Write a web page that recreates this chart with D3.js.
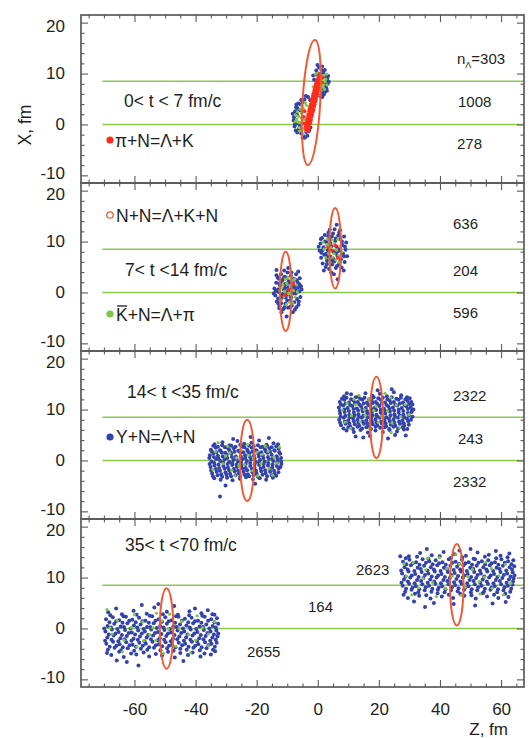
<!DOCTYPE html>
<html>
<head>
<meta charset="utf-8">
<script src="https://cdn.jsdelivr.net/npm/d3@7"></script>
<style>
html,body{margin:0;padding:0;background:#fff;}
svg{display:block;font-family:"Liberation Sans",Arial,Helvetica,sans-serif;}
</style>
</head>
<body>
<svg id="chart" width="532" height="738"></svg>
<script>
// ---- axes ----
const zDomain = [-77.5, 67.5];
const xDomain = [-11.5, 21.5];
const zTicks = [-60, -40, -20, 0, 20, 40, 60];
const xTicks = [-10, 0, 10, 20];
const bandLevels = [0, 8.5];
const bandStart = -70.5;

// ---- panel texts ----
const timeWindows = ["0< t < 7 fm/c", "7< t <14 fm/c", "14< t <35 fm/c", "35< t <70 fm/c"];
const upperCounts = [303, 636, 2322, 2623];
const middleCounts = [1008, 204, 243, 164];
const lowerCounts = [278, 596, 2332, 2655];

// ---- Lambda production points [Z, X] (fm) ----
const p1Blue = [[1.8,10.2],[2.4,9.4],[2.9,8.6],[2.6,7.6],[1.9,6.8],[1.2,10.8],[0.4,11.2],[-0.5,10.6],[3.1,9.0],[2.2,8.1],[1.5,6.2],[0.8,5.6],[-0.6,9.8],[2.8,7.1],[1.0,9.9],[3.3,8.0],[2.0,5.9],[-1.2,8.8],
[-7.4,2.6],[-7.8,1.4],[-6.9,0.2],[-6.2,-1.0],[-5.4,-1.8],[-4.6,-2.3],[-7.1,3.4],[-6.4,4.1],[-5.6,3.9],[-7.6,-0.4],[-3.8,-1.5],[-6.8,1.9],[-5.0,4.4],[-4.2,-2.6],[-7.9,0.8],[-6.0,2.8],[-2.8,-1.2],[-5.9,-0.3],[-3.3,0.3],[-7.2,-1.2],
[-2.5,4.8],[-1.4,6.0],[-3.2,5.4],[-0.2,6.5],[-4.4,4.9],
[1.4,11.4],[2.3,10.7],[3.4,9.5],[3.6,8.4],[3.0,6.6],[2.4,6.4],[-0.1,11.7],[-1.5,9.6],[-7.0,3.9],[-8.2,2.1],[-7.5,0.0],[-6.7,-1.6],[-5.0,-2.6],[-3.4,-2.2],[-6.6,3.2],[-5.4,4.8],[-2.4,-0.6],[-1.9,3.6],[-3.9,5.6],[-0.6,7.3],[1.5,5.4]];
const p1Green = [[0.5,9.3],[1.3,8.7],[2.0,9.6],[1.7,7.4],[0.9,7.9],[2.4,8.4],[1.1,6.6],[-0.2,8.4],[0.2,10.1],[2.6,8.9],[1.5,9.0],[0.6,6.9],[1.9,7.8],
[-6.3,1.6],[-5.7,0.4],[-6.6,2.5],[-5.0,-0.8],[-4.6,0.9],[-5.8,3.0],[-6.9,1.0],[-5.3,2.2],[-4.1,-1.2],[-6.1,-0.6],[-5.5,1.3],[-4.8,3.2],[-3.7,-0.4],[-6.5,0.5],
[-2.9,3.5],[-1.9,5.2],[-3.8,3.8],[-0.9,6.2],[-2.2,2.4],
[-7.1,1.8],[-6.0,-1.3],[-4.9,-1.9],[-3.4,-1.1],[-7.3,0.6],[-5.2,3.7],[-4.1,4.3],[1.0,11.0],[2.9,9.9],[3.0,7.8],[2.2,6.9],[-0.8,9.9],[-1.5,7.4],[0.3,5.9]];
const p1Red = [[-3.9,-1.0],[-3.3,-0.8],[-4.0,-0.5],[-3.4,-0.4],[-2.8,-0.6],[-3.8,0.1],[-3.2,-0.1],[-2.6,0.2],[-3.6,0.5],[-3.0,0.6],[-2.4,0.4],
[-3.5,1.0],[-2.8,1.1],[-2.2,0.9],[-3.2,1.6],[-2.6,1.4],[-2.0,1.5],[-3.1,2.0],[-2.4,2.1],[-1.8,1.9],[-2.8,2.6],[-2.2,2.4],[-1.6,2.5],
[-2.7,3.0],[-2.0,3.1],[-1.4,2.9],[-2.4,3.6],[-1.8,3.4],[-1.2,3.5],[-2.3,4.0],[-1.6,4.1],[-1.0,3.9],[-2.0,4.6],[-1.4,4.4],[-0.8,4.5],
[-1.9,5.0],[-1.2,5.1],[-0.6,4.9],[-1.6,5.6],[-1.0,5.4],[-0.4,5.5],[-1.4,6.0],[-0.8,6.1],[-0.2,5.9],[-1.2,6.6],[-0.6,6.4],[0.0,6.5],
[-1.0,7.0],[-0.4,7.1],[0.2,6.9],[-0.8,7.6],[-0.2,7.4],[0.4,7.5],[-0.6,8.0],[0.0,8.1],[0.6,7.9],[-0.3,8.6],[0.2,8.4],[0.7,8.5],
[0.0,9.0],[0.6,9.1],[0.3,9.6],[0.9,9.4],[0.7,10.0],[-4.6,1.5],[-4.3,2.6],[-4.5,0.2],[1.2,8.2],[1.5,9.2],[-3.0,-1.4]];

const p2Blue = [[-14.2,0.8],[-13.9,-0.6],[-13.6,1.9],[-13.4,-1.8],[-13.1,2.9],[-12.8,0.1],[-12.5,-2.7],[-12.3,1.3],[-12.0,3.6],[-11.8,-1.1],[-11.6,2.4],[-11.3,-3.3],[-11.1,0.6],[-10.8,3.1],[-10.6,-2.2],[-10.4,1.7],[-10.1,-0.4],[-9.9,3.9],[-9.7,-3.0],[-9.5,2.2],[-9.2,0.9],[-9.0,-1.6],[-8.8,3.3],[-8.5,-2.6],[-8.3,1.4],[-8.0,-0.2],[-7.8,2.7],[-7.5,-3.4],[-7.3,0.5],[-7.1,3.6],[-6.8,-1.3],[-6.6,1.9],[-6.3,-2.4],[-6.1,0.2],[-5.9,2.8],[-5.7,-0.9],[-5.5,1.2],[-13.0,-1.2],[-12.2,2.0],[-11.4,-0.3],[-10.5,-1.0],[-9.6,1.0],[-8.7,-1.0],[-7.6,1.2],[-6.9,2.4],[-6.2,-1.8],[-14.4,-0.2],[-13.5,3.4],[-12.6,-3.1],[-11.0,4.3],[-9.7,4.8],[-6.4,4.1],[-13.5,4.4],[-10.2,-4.7],[-8.2,-3.9],[-12.9,-2.2],[-5.3,0.6],[-11.9,-3.9],[-7.0,-2.9],[-10.0,2.9],
[-13.0,0.6],[-12.5,1.6],[-11.9,-0.6],[-11.2,2.8],[-10.7,0.9],[-10.0,-1.6],[-9.4,1.9],[-8.9,-0.8],[-8.2,2.0],[-7.7,-1.9],[-7.2,-0.2],[-6.5,0.9],[-12.0,-2.1],[-10.9,-2.9],[-9.0,-2.8],[-8.6,3.9],[-12.7,2.7],[-6.0,1.6],[-13.8,0.3],[-9.8,0.3],[-10.8,1.6],[-7.9,0.9],
[0.6,8.2],[0.9,9.6],[1.1,6.8],[1.4,10.7],[1.6,5.7],[1.9,8.9],[2.1,7.4],[2.3,11.3],[2.6,5.0],[2.8,9.9],[3.0,6.3],[3.3,8.3],[3.5,11.8],[3.7,4.6],[4.0,10.4],[4.2,7.0],[4.5,9.1],[4.7,5.5],[5.0,11.6],[5.2,8.0],[5.4,6.1],[5.7,10.1],[5.9,4.8],[6.2,9.0],[6.4,7.2],[6.7,11.2],[6.9,5.6],[7.1,8.5],[7.4,10.5],[7.6,6.5],[7.8,4.9],[8.1,9.3],[8.3,7.6],[8.6,11.0],[8.8,6.0],[9.1,8.4],[9.3,9.8],[1.2,7.8],[3.9,12.3],[6.2,13.3],[6.5,2.6],[5.3,3.6],[8.5,4.3],[2.0,4.3],[7.3,12.2],[0.3,9.0],[9.6,7.1],[4.4,3.9],[3.2,7.0],[6.0,7.8],
[1.5,8.3],[2.4,10.0],[3.0,5.6],[3.8,8.7],[4.6,11.0],[5.1,6.6],[5.9,10.6],[6.6,8.1],[7.2,6.0],[7.9,10.0],[8.6,7.1],[2.7,7.6],[4.1,9.7],[6.3,5.2],[8.9,9.0],[5.5,12.4],[1.0,10.5],[3.4,11.1],[7.0,11.8],[4.5,6.2]];
const p2Green = [[-11.8,0.9],[-11.0,-0.8],[-10.2,1.8],[-9.6,-0.2],[-9.0,1.1],[-8.4,2.3],[-8.0,0.4],[-7.4,-0.9],[-10.6,2.6],[-11.4,1.5],[-9.3,-1.9],[-8.6,-0.5],[-7.0,1.5],[-10.9,0.2],[-12.4,0.4],[-9.8,2.9],[-8.2,-2.1],[-7.6,2.6],[-10.3,-2.4],[-11.9,-1.5],[-6.7,0.1],[-9.1,0.0],
[2.1,8.5],[2.9,9.4],[3.6,7.7],[4.3,8.8],[4.9,6.9],[5.5,9.6],[6.1,8.3],[6.8,7.3],[7.4,9.0],[3.1,10.5],[4.8,10.3],[5.9,6.4],[7.9,8.0],[2.6,6.8],[4.0,5.9],[6.5,10.4],[3.8,9.6],[5.3,7.6],[7.0,5.9],[1.7,9.9]];
const p2Red = [[-9.4,0.5],[-8.1,1.7],[-10.7,-0.5],[4.6,8.2],[5.8,9.2],[3.4,8.9],[6.6,6.8]];

const p3Blue = [[-33.8,3.2],[-31.2,3.6],[-28.9,3.0],[-26.3,3.8],[-24.1,3.3],[-21.7,3.5],[-19.2,3.9],[-16.8,3.1],[-14.5,3.4],
[-35.0,2.1],[-33.4,2.5],[-32.0,2.0],[-30.4,2.6],[-29.1,2.2],[-27.5,2.4],[-26.0,1.9],[-24.6,2.7],[-23.1,2.1],[-21.6,2.5],[-20.2,2.0],[-18.7,2.6],[-17.3,2.2],[-15.8,2.4],[-14.2,2.0],[-12.8,2.3],
[-35.3,1.0],[-34.1,1.4],[-32.7,0.9],[-31.4,1.5],[-29.8,1.1],[-28.3,1.3],[-26.8,0.8],[-25.3,1.5],[-23.8,1.0],[-22.4,1.4],[-20.9,0.9],[-19.5,1.3],[-18.0,1.0],[-16.5,1.5],[-15.1,1.1],[-13.6,0.8],[-12.3,1.3],
[-34.8,-0.2],[-33.3,0.3],[-31.9,-0.1],[-30.5,0.2],[-29.0,-0.3],[-27.6,0.1],[-26.1,-0.2],[-24.7,0.3],[-23.2,-0.1],[-21.8,0.2],[-20.3,-0.3],[-18.9,0.1],[-17.4,-0.2],[-16.0,0.3],[-14.6,-0.1],[-13.1,0.2],[-12.0,-0.2],
[-35.1,-1.3],[-33.8,-1.0],[-32.3,-1.5],[-30.9,-1.1],[-29.4,-1.4],[-28.0,-0.9],[-26.5,-1.3],[-25.0,-1.0],[-23.6,-1.5],[-22.1,-1.1],[-20.7,-1.4],[-19.2,-0.9],[-17.8,-1.3],[-16.3,-1.0],[-14.9,-1.4],[-13.4,-1.1],[-12.2,-1.3],
[-34.6,-2.5],[-33.1,-2.2],[-31.6,-2.7],[-30.2,-2.3],[-28.7,-2.6],[-27.2,-2.1],[-25.8,-2.5],[-24.3,-2.2],[-22.9,-2.7],[-21.4,-2.3],[-20.0,-2.6],[-18.5,-2.1],[-17.1,-2.5],[-15.6,-2.2],[-14.2,-2.6],[-12.9,-2.3],
[-33.9,-3.5],[-31.8,-3.8],[-29.7,-3.4],[-27.9,-3.9],[-25.5,-3.6],[-23.5,-3.3],[-21.2,-3.7],[-19.0,-3.5],[-16.9,-3.8],[-14.7,-3.4],
[-32.0,-7.1],[-27.7,4.2],[-30.2,-4.9],[-22.0,4.6],[-16.0,4.4],[-13.0,3.2],[-20.5,-4.6],
[-34.2,2.9],[-32.7,2.7],[-31.3,3.0],[-29.8,2.6],[-28.3,2.9],[-26.9,2.7],[-25.4,3.1],[-24.0,2.6],[-22.5,2.9],[-21.0,2.8],[-19.6,3.0],[-18.1,2.7],[-16.6,2.9],[-15.1,2.6],[-13.6,2.8],
[-34.7,1.8],[-33.2,1.6],[-31.8,1.9],[-30.3,1.5],[-28.8,1.8],[-27.3,1.7],[-25.9,1.9],[-24.4,1.6],[-22.9,1.8],[-21.4,1.7],[-20.0,1.9],[-18.5,1.6],[-17.0,1.8],[-15.6,1.7],[-14.1,1.9],[-12.6,1.6],
[-35.5,0.5],[-34.0,0.7],[-32.5,0.4],[-31.1,0.8],[-29.6,0.5],[-28.1,0.7],[-26.6,0.4],[-25.2,0.8],[-23.7,0.5],[-22.2,0.7],[-20.7,0.4],[-19.3,0.8],[-17.8,0.5],[-16.3,0.7],[-14.8,0.4],[-13.4,0.8],[-12.0,0.5],
[-35.4,-0.7],[-33.9,-0.5],[-32.5,-0.8],[-31.0,-0.4],[-29.5,-0.7],[-28.0,-0.5],[-26.6,-0.8],[-25.1,-0.4],[-23.6,-0.7],[-22.1,-0.5],[-20.7,-0.8],[-19.2,-0.4],[-17.7,-0.7],[-16.2,-0.5],[-14.8,-0.8],[-13.3,-0.4],[-11.9,-0.7],
[-34.9,-1.9],[-33.4,-1.7],[-32.0,-2.0],[-30.5,-1.6],[-29.0,-1.9],[-27.5,-1.7],[-26.1,-2.0],[-24.6,-1.6],[-23.1,-1.9],[-21.6,-1.7],[-20.2,-2.0],[-18.7,-1.6],[-17.2,-1.9],[-15.7,-1.7],[-14.3,-2.0],[-12.8,-1.6],
[-34.3,-3.1],[-32.8,-2.9],[-31.3,-3.2],[-29.9,-2.8],[-28.4,-3.1],[-26.9,-2.9],[-25.4,-3.2],[-24.0,-2.8],[-22.5,-3.1],[-21.0,-2.9],[-19.6,-3.2],[-18.1,-2.8],[-16.6,-3.1],[-15.1,-2.9],[-13.6,-3.0],
[8.6,12.6],[10.9,13.0],[13.2,12.5],[15.6,13.2],[17.9,12.7],[20.3,13.1],[22.6,12.6],[24.9,13.4],[27.3,12.8],[29.2,12.4],
[7.2,11.5],[8.7,11.9],[10.2,11.4],[11.7,11.8],[13.1,11.5],[14.6,11.9],[16.1,11.4],[17.6,11.8],[19.0,11.5],[20.5,11.9],[22.0,11.4],[23.5,11.8],[24.9,11.5],[26.4,11.9],[27.9,11.4],[29.4,11.7],[30.6,11.5],
[6.9,10.4],[8.3,10.8],[9.8,10.3],[11.3,10.7],[12.8,10.2],[14.2,10.6],[15.7,10.3],[17.2,10.8],[18.7,10.4],[20.1,10.7],[21.6,10.2],[23.1,10.6],[24.6,10.4],[26.0,10.8],[27.5,10.3],[29.0,10.6],[30.4,10.4],
[7.3,9.2],[8.8,9.5],[10.3,9.0],[11.8,9.4],[13.3,9.1],[14.7,9.6],[16.2,9.2],[17.7,9.5],[19.2,9.0],[20.6,9.4],[22.1,9.2],[23.6,9.6],[25.1,9.1],[26.5,9.4],[28.0,9.0],[29.5,9.3],[30.7,9.5],
[7.0,8.0],[8.5,8.4],[10.0,7.9],[11.5,8.3],[13.0,8.0],[14.4,8.4],[15.9,7.9],[17.4,8.3],[18.9,8.1],[20.3,8.4],[21.8,7.9],[23.3,8.2],[24.8,8.0],[26.3,8.4],[27.7,7.9],[29.2,8.2],[30.5,8.0],
[7.6,6.9],[9.1,7.2],[10.6,6.7],[12.1,7.1],[13.6,6.8],[15.1,7.2],[16.5,6.7],[18.0,7.1],[19.5,6.9],[21.0,7.2],[22.4,6.7],[23.9,7.0],[25.4,6.8],[26.9,7.2],[28.3,6.8],[29.8,7.0],
[9.4,5.9],[11.8,5.6],[14.0,6.0],[16.4,5.5],[18.9,5.9],[21.3,5.6],[23.5,6.0],[25.9,5.7],[28.2,6.1],
[25.3,5.0],[23.0,4.3],[24.2,14.0],[12.4,4.7],[17.1,4.8],[28.8,4.9],[19.6,13.8],[9.5,13.2],[31.3,10.0],[14.9,4.5],
[7.9,12.1],[9.4,12.3],[10.9,12.0],[12.4,12.4],[13.9,12.1],[15.3,12.3],[16.8,12.0],[18.3,12.4],[19.8,12.2],[21.3,12.3],[22.8,12.0],[24.2,12.4],[25.7,12.1],[27.2,12.3],[28.7,12.0],[30.1,12.2],
[7.6,11.0],[9.1,11.2],[10.6,10.9],[12.1,11.3],[13.6,11.0],[15.0,11.2],[16.5,10.9],[18.0,11.3],[19.5,11.1],[21.0,11.2],[22.5,10.9],[23.9,11.3],[25.4,11.0],[26.9,11.2],[28.4,10.9],[29.9,11.1],[31.0,11.0],
[7.2,9.8],[8.7,10.0],[10.2,9.7],[11.7,10.1],[13.2,9.8],[14.6,10.0],[16.1,9.7],[17.6,10.1],[19.1,9.9],[20.6,10.0],[22.1,9.7],[23.5,10.1],[25.0,9.8],[26.5,10.0],[28.0,9.7],[29.5,10.1],[30.9,9.9],
[7.5,8.6],[9.0,8.8],[10.5,8.5],[12.0,8.9],[13.5,8.6],[14.9,8.8],[16.4,8.5],[17.9,8.9],[19.4,8.7],[20.9,8.8],[22.4,8.5],[23.8,8.9],[25.3,8.6],[26.8,8.8],[28.3,8.5],[29.8,8.9],[31.0,8.6],
[7.3,7.4],[8.8,7.6],[10.3,7.3],[11.8,7.7],[13.3,7.4],[14.7,7.6],[16.2,7.3],[17.7,7.7],[19.2,7.5],[20.7,7.6],[22.2,7.3],[23.6,7.7],[25.1,7.4],[26.6,7.6],[28.1,7.3],[29.6,7.7],
[8.4,6.3],[10.0,6.5],[11.5,6.2],[13.0,6.6],[14.5,6.3],[15.9,6.5],[17.4,6.2],[18.9,6.6],[20.4,6.4],[21.9,6.5],[23.4,6.2],[24.8,6.6],[26.3,6.3],[27.8,6.5],[29.3,6.2]];
const p3Green = [[-33.5,1.7],[-31.0,-0.6],[-29.5,2.8],[-28.2,-1.9],[-26.6,0.5],[-25.1,2.0],[-24.0,-0.8],[-22.7,1.0],[-21.3,-2.0],[-20.0,1.6],[-18.6,-0.6],[-17.2,2.9],[-15.9,-1.6],[-14.3,0.6],[-13.3,-0.5],[-32.6,3.5],[-27.1,-3.0],[-23.0,3.1],[-19.7,-3.0],[-16.2,1.8],[-30.1,0.9],[-34.3,-1.8],[-25.8,-1.0],[-21.0,0.3],[-18.2,1.2],[-14.8,-2.9],[-28.8,1.5],[-12.6,2.6],
[8.0,9.9],[9.6,11.2],[11.0,8.8],[12.3,10.9],[13.9,7.6],[15.2,10.0],[16.8,12.0],[18.3,9.8],[19.8,7.5],[21.2,11.1],[22.8,9.7],[24.3,7.4],[25.7,10.9],[27.1,8.6],[28.6,11.0],[10.7,6.3],[13.5,12.8],[17.0,6.3],[20.8,8.7],[23.9,12.3],[26.8,6.4],[29.8,9.0],[15.5,8.9],[11.9,12.0],[19.1,10.6],[8.9,7.5],[24.0,5.5],[22.0,13.2]];

const p4Blue = [[-68.6,3.2],[-64.1,2.8],[-60.3,3.5],[-56.0,2.9],[-52.2,4.8],[-49.4,3.3],[-45.8,2.7],[-42.0,3.4],[-38.1,3.0],[-34.5,2.8],
[-69.3,1.8],[-67.1,2.2],[-65.0,1.6],[-62.8,2.3],[-60.7,1.7],[-58.5,2.1],[-56.4,1.5],[-54.2,2.4],[-52.1,1.8],[-49.9,2.2],[-47.8,1.6],[-45.6,2.3],[-43.5,1.9],[-41.3,2.1],[-39.2,1.5],[-37.0,2.3],[-34.9,1.8],[-33.0,2.0],
[-68.8,0.5],[-66.6,0.9],[-64.5,0.4],[-62.3,1.0],[-60.2,0.6],[-58.0,0.8],[-55.9,0.3],[-53.7,1.0],[-51.6,0.5],[-49.4,0.9],[-47.3,0.4],[-45.1,0.8],[-43.0,0.6],[-40.8,1.0],[-38.7,0.4],[-36.5,0.8],[-34.4,0.5],[-32.6,0.9],
[-69.5,-0.6],[-67.4,-0.2],[-65.2,-0.7],[-63.1,-0.3],[-60.9,-0.8],[-58.8,-0.4],[-56.6,-0.6],[-54.5,-0.2],[-52.3,-0.7],[-50.2,-0.3],[-48.0,-0.8],[-45.9,-0.4],[-43.7,-0.6],[-41.6,-0.2],[-39.4,-0.7],[-37.3,-0.3],[-35.1,-0.6],[-33.2,-0.4],
[-68.9,-1.8],[-66.8,-1.4],[-64.6,-1.9],[-62.5,-1.5],[-60.3,-2.0],[-58.2,-1.6],[-56.0,-1.8],[-53.9,-1.4],[-51.7,-1.9],[-49.6,-1.5],[-47.4,-2.0],[-45.3,-1.6],[-43.1,-1.8],[-41.0,-1.4],[-38.8,-1.9],[-36.7,-1.5],[-34.5,-1.8],[-32.8,-1.6],
[-69.2,-3.0],[-67.0,-2.6],[-64.9,-3.1],[-62.7,-2.7],[-60.6,-3.2],[-58.4,-2.8],[-56.3,-3.0],[-54.1,-2.6],[-52.0,-3.1],[-49.8,-2.7],[-47.7,-3.2],[-45.5,-2.8],[-43.4,-3.0],[-41.2,-2.6],[-39.1,-3.1],[-36.9,-2.7],[-34.8,-3.0],[-33.1,-2.8],
[-68.7,-4.2],[-66.5,-3.8],[-64.4,-4.3],[-62.2,-3.9],[-60.1,-4.4],[-57.9,-4.0],[-55.8,-4.2],[-53.6,-3.8],[-51.5,-4.3],[-49.3,-3.9],[-47.2,-4.4],[-45.0,-4.0],[-42.9,-4.2],[-40.7,-3.8],[-38.6,-4.3],[-36.4,-3.9],[-34.3,-4.2],
[-67.6,-5.2],[-63.5,-5.6],[-59.4,-5.1],[-55.2,-5.5],[-51.0,-5.3],[-46.8,-5.7],[-42.5,-5.2],[-38.4,-5.5],[-35.0,-5.1],
[-58.7,-7.3],[-62.5,-6.6],[-65.8,-6.3],[-53.5,4.1],[-57.6,4.6],[-47.0,4.4],[-40.2,3.9],[-44.0,-6.4],[-36.0,3.6],[-66.0,3.9],
[-67.9,2.6],[-63.6,2.4],[-59.3,2.7],[-55.0,2.5],[-50.7,2.8],[-46.4,2.4],[-42.1,2.6],[-37.8,2.5],[-33.8,2.7],
[-68.2,1.2],[-66.0,1.4],[-63.9,1.1],[-61.7,1.5],[-59.6,1.2],[-57.4,1.4],[-55.3,1.1],[-53.1,1.5],[-51.0,1.3],[-48.8,1.4],[-46.7,1.1],[-44.5,1.5],[-42.4,1.2],[-40.2,1.4],[-38.1,1.1],[-35.9,1.5],[-33.8,1.2],
[-69.9,0.0],[-67.7,0.2],[-65.6,-0.1],[-63.4,0.3],[-61.3,0.0],[-59.1,0.2],[-57.0,-0.1],[-54.8,0.3],[-52.7,0.1],[-50.5,0.2],[-48.4,-0.1],[-46.2,0.3],[-44.1,0.0],[-41.9,0.2],[-39.8,-0.1],[-37.6,0.3],[-35.5,0.0],[-33.4,0.2],
[-68.4,-1.2],[-66.2,-1.0],[-64.1,-1.3],[-61.9,-0.9],[-59.8,-1.2],[-57.6,-1.0],[-55.5,-1.3],[-53.3,-0.9],[-51.2,-1.1],[-49.0,-1.0],[-46.9,-1.3],[-44.7,-0.9],[-42.6,-1.2],[-40.4,-1.0],[-38.3,-1.3],[-36.1,-0.9],[-34.0,-1.2],[-32.6,-1.0],
[-69.6,-2.4],[-67.5,-2.2],[-65.3,-2.5],[-63.2,-2.1],[-61.0,-2.4],[-58.9,-2.2],[-56.7,-2.5],[-54.6,-2.1],[-52.4,-2.3],[-50.3,-2.2],[-48.1,-2.5],[-46.0,-2.1],[-43.8,-2.4],[-41.7,-2.2],[-39.5,-2.5],[-37.4,-2.1],[-35.2,-2.4],[-33.4,-2.2],
[-68.1,-3.6],[-65.9,-3.4],[-63.8,-3.7],[-61.6,-3.3],[-59.5,-3.6],[-57.3,-3.4],[-55.2,-3.7],[-53.0,-3.3],[-50.9,-3.5],[-48.7,-3.4],[-46.6,-3.7],[-44.4,-3.3],[-42.3,-3.6],[-40.1,-3.4],[-38.0,-3.7],[-35.8,-3.3],[-33.7,-3.6],
[-69.0,-4.8],[-65.0,-4.6],[-61.1,-4.9],[-57.0,-4.7],[-53.0,-5.0],[-49.0,-4.6],[-45.0,-4.8],[-41.0,-4.7],[-37.1,-4.9],[-33.6,-4.5],
[29.8,14.2],[33.5,14.8],[37.3,14.4],[41.2,15.0],[44.8,14.6],[48.5,14.3],[52.3,14.9],[56.0,14.5],[59.8,14.3],[62.7,14.7],
[27.9,13.1],[30.0,13.5],[32.2,13.0],[34.3,13.6],[36.5,13.2],[38.6,13.4],[40.8,13.0],[42.9,13.6],[45.1,13.1],[47.2,13.5],[49.4,13.0],[51.5,13.6],[53.7,13.2],[55.8,13.4],[58.0,13.0],[60.1,13.6],[62.3,13.2],[64.0,13.4],
[28.4,12.0],[30.5,12.4],[32.7,11.9],[34.8,12.3],[37.0,12.0],[39.1,12.4],[41.3,11.9],[43.4,12.3],[45.6,12.1],[47.7,12.4],[49.9,11.9],[52.0,12.3],[54.2,12.0],[56.3,12.4],[58.5,11.9],[60.6,12.3],[62.8,12.0],[64.3,12.2],
[27.6,10.8],[29.7,11.2],[31.9,10.7],[34.0,11.1],[36.2,10.8],[38.3,11.2],[40.5,10.7],[42.6,11.1],[44.8,10.9],[46.9,11.2],[49.1,10.7],[51.2,11.1],[53.4,10.8],[55.5,11.2],[57.7,10.7],[59.8,11.1],[62.0,10.8],[63.8,11.0],
[28.2,9.6],[30.3,10.0],[32.5,9.5],[34.6,9.9],[36.8,9.6],[38.9,10.0],[41.1,9.5],[43.2,9.9],[45.4,9.7],[47.5,10.0],[49.7,9.5],[51.8,9.9],[54.0,9.6],[56.1,10.0],[58.3,9.5],[60.4,9.9],[62.6,9.6],[64.1,9.8],
[27.8,8.4],[29.9,8.8],[32.1,8.3],[34.2,8.7],[36.4,8.4],[38.5,8.8],[40.7,8.3],[42.8,8.7],[45.0,8.5],[47.1,8.8],[49.3,8.3],[51.4,8.7],[53.6,8.4],[55.7,8.8],[57.9,8.3],[60.0,8.7],[62.2,8.4],[63.7,8.6],
[28.6,7.2],[30.7,7.6],[32.9,7.1],[35.0,7.5],[37.2,7.2],[39.3,7.6],[41.5,7.1],[43.6,7.5],[45.8,7.3],[47.9,7.6],[50.1,7.1],[52.2,7.5],[54.4,7.2],[56.5,7.6],[58.7,7.1],[60.8,7.5],[63.0,7.2],
[29.5,6.0],[33.2,6.4],[36.9,5.9],[40.6,6.3],[44.3,6.0],[48.0,6.4],[51.7,5.9],[55.4,6.3],[59.1,6.0],[62.4,6.2],
[35.1,4.2],[51.5,4.5],[35.7,15.6],[50.0,15.6],[38.0,5.0],[44.5,4.8],[57.2,4.9],[61.5,5.2],[31.5,5.3],[46.4,15.3],[58.3,15.2],[27.0,14.2],
[28.8,13.8],[32.5,14.1],[36.2,13.7],[39.9,14.2],[43.6,13.9],[47.3,14.0],[51.0,13.7],[54.7,14.1],[58.4,13.8],[62.1,14.0],
[29.0,12.6],[31.1,12.8],[33.3,12.5],[35.4,12.9],[37.6,12.6],[39.7,12.8],[41.9,12.5],[44.0,12.9],[46.2,12.7],[48.3,12.8],[50.5,12.5],[52.6,12.9],[54.8,12.6],[56.9,12.8],[59.1,12.5],[61.2,12.9],[63.4,12.6],
[27.3,11.4],[29.4,11.6],[31.6,11.3],[33.7,11.7],[35.9,11.4],[38.0,11.6],[40.2,11.3],[42.3,11.7],[44.5,11.5],[46.6,11.6],[48.8,11.3],[50.9,11.7],[53.1,11.4],[55.2,11.6],[57.4,11.3],[59.5,11.7],[61.7,11.4],[63.6,11.6],
[28.7,10.2],[30.8,10.4],[33.0,10.1],[35.1,10.5],[37.3,10.2],[39.4,10.4],[41.6,10.1],[43.7,10.5],[45.9,10.3],[48.0,10.4],[50.2,10.1],[52.3,10.5],[54.5,10.2],[56.6,10.4],[58.8,10.1],[60.9,10.5],[63.1,10.2],[64.4,10.4],
[27.4,9.0],[29.5,9.2],[31.7,8.9],[33.8,9.3],[36.0,9.0],[38.1,9.2],[40.3,8.9],[42.4,9.3],[44.6,9.1],[46.7,9.2],[48.9,8.9],[51.0,9.3],[53.2,9.0],[55.3,9.2],[57.5,8.9],[59.6,9.3],[61.8,9.0],[63.9,9.2],
[28.9,7.8],[31.0,8.0],[33.2,7.7],[35.3,8.1],[37.5,7.8],[39.6,8.0],[41.8,7.7],[43.9,8.1],[46.1,7.9],[48.2,8.0],[50.4,7.7],[52.5,8.1],[54.7,7.8],[56.8,8.0],[59.0,7.7],[61.1,8.1],[63.3,7.8],
[28.1,6.6],[31.8,6.8],[35.5,6.5],[39.2,6.9],[42.9,6.6],[46.6,6.8],[50.3,6.5],[54.0,6.9],[57.7,6.6],[61.4,6.8]];
const p4Green = [[-67.3,-1.1],[-65.6,1.5],[-63.4,-2.3],[-61.1,0.2],[-59.2,-3.6],[-57.3,1.3],[-55.0,-1.2],[-53.0,-2.3],[-51.1,1.5],[-48.9,-0.1],[-46.5,-3.5],[-44.6,1.4],[-42.3,-1.2],[-40.0,-2.3],[-37.8,0.1],[-35.8,-3.4],[-33.7,1.3],[-60.0,2.7],[-50.5,-4.9],[-45.3,0.0],[-39.5,2.5],[-54.0,0.1],[-64.0,-4.6],[-48.5,2.8],[-41.7,-4.8],[-56.9,-2.4],[-68.0,0.1],[-35.8,-1.1],[-69.0,3.7],[-52.8,3.0],
[29.0,10.3],[31.2,12.9],[33.0,8.0],[35.3,11.5],[37.6,9.0],[39.8,13.9],[41.9,7.8],[44.1,10.3],[46.3,12.7],[48.2,8.1],[50.6,11.6],[52.8,9.2],[55.0,13.0],[57.1,7.9],[59.3,10.4],[61.4,12.6],[63.2,8.9],[30.8,6.6],[36.0,13.8],[42.2,11.8],[47.0,6.5],[53.1,6.8],[56.8,11.8],[60.7,6.6],[38.8,6.3],[45.2,14.5],[49.0,10.2],[34.5,9.8],[54.6,10.1],[28.2,12.7]];

// ---- ellipses [centre Z, centre X, half-width Z, half-height X, tilt deg] ----
const ellipses1 = [[-2.1, 4.3, 2.9, 12.3, 3.2]];
const ellipses2 = [[-10.5, 0.2, 1.9, 7.8, 0], [5.7, 8.7, 1.9, 7.9, 0]];
const ellipses3 = [[-23.1, 0.0, 2.3, 8.0, 0], [19.2, 8.45, 2.1, 8.0, 0]];
const ellipses4 = [[-49.5, 0.0, 2.2, 7.9, 0], [45.5, 8.6, 2.2, 8.0, 0]];

const panels = [
  {blue: p1Blue, green: p1Green, red: p1Red, ellipses: ellipses1},
  {blue: p2Blue, green: p2Green, red: p2Red, ellipses: ellipses2},
  {blue: p3Blue, green: p3Green, red: [], ellipses: ellipses3},
  {blue: p4Blue, green: p4Green, red: [], ellipses: ellipses4}
];

// ---- layout & style ----
const left = 81, right = 524, top0 = 15, ph = 168;
const COL = {blue: "#3443ab", green: "#82c646", red: "#ff2d1c", ellipse: "#f25a36", band: "#8cc84e", frame: "#5a5a5a", text: "#1e1e1e"};
const svg = d3.select("#chart");
const z = d3.scaleLinear().domain(zDomain).range([left, right]);
const fmt = d => String(d);

// count label positions within each panel: [x, baseline offset from panel top]
const countPos = [
  [[457, 49], [458, 92], [457, 134]],
  [[453, 46], [453, 93], [453, 135]],
  [[453, 50], [458, 93], [453, 136]],
  [[356, 56], [308, 93], [247, 138]]
];
const timePos = [[124, 92], [125, 93], [127, 47], [125, 32]];

panels.forEach((p, i) => {
  const y0 = top0 + ph * i, y1 = y0 + ph;
  const y = d3.scaleLinear().domain(xDomain).range([y1, y0]);
  const g = svg.append("g");

  // reference lines
  g.selectAll("line.band").data(bandLevels).join("line")
    .attr("x1", z(bandStart)).attr("x2", z(zDomain[1]))
    .attr("y1", d => y(d)).attr("y2", d => y(d))
    .attr("stroke", COL.band).attr("stroke-width", 1.6);

  // points
  const dots = (arr, col, r) => g.append("g").selectAll("circle").data(arr).join("circle")
    .attr("cx", d => z(d[0])).attr("cy", d => y(d[1])).attr("r", r).attr("fill", col);
  dots(p.blue, COL.blue, 2.0);
  dots(p.green, COL.green, 1.6);
  dots(p.red, COL.red, 1.9);

  // ellipses
  g.selectAll("ellipse").data(p.ellipses).join("ellipse")
    .attr("cx", d => z(d[0])).attr("cy", d => y(d[1]))
    .attr("rx", d => z(d[2]) - z(0)).attr("ry", d => y(0) - y(d[3]))
    .attr("transform", d => `rotate(${d[4]},${z(d[0])},${y(d[1])})`)
    .attr("fill", "none").attr("stroke", COL.ellipse).attr("stroke-width", 2);

  // axes: major + minor ticks on all four sides, pointing inward
  const zMinor = d3.range(-75, 66, 5).filter(v => !zTicks.includes(v));
  const xMinor = d3.range(-10, 21, 2).filter(v => !xTicks.includes(v));
  const styleAxis = a => { a.select(".domain").remove(); a.selectAll("line").attr("stroke", COL.frame).attr("stroke-width", 1.1); };

  g.append("g").attr("transform", `translate(0,${y1})`)
    .call(d3.axisBottom(z).tickValues(zTicks).tickSize(-7).tickFormat(i === 3 ? fmt : "").tickPadding(16))
    .call(styleAxis);
  g.append("g").attr("transform", `translate(0,${y1})`)
    .call(d3.axisBottom(z).tickValues(zMinor).tickSize(-3.5).tickFormat("")).call(styleAxis);
  g.append("g").attr("transform", `translate(0,${y0})`)
    .call(d3.axisTop(z).tickValues(zTicks).tickSize(-7).tickFormat("")).call(styleAxis);
  g.append("g").attr("transform", `translate(0,${y0})`)
    .call(d3.axisTop(z).tickValues(zMinor).tickSize(-3.5).tickFormat("")).call(styleAxis);
  const yAxis = g.append("g").attr("transform", `translate(${left},0)`)
    .call(d3.axisLeft(y).tickValues(xTicks).tickSize(-7).tickFormat(fmt).tickPadding(16)).call(styleAxis);
  // keep the stacked "-10" / "20" labels at panel joins apart
  yAxis.selectAll(".tick text").attr("dy", d => d === 20 ? "0.52em" : d === -10 ? "0.2em" : "0.32em");
  g.append("g").attr("transform", `translate(${left},0)`)
    .call(d3.axisLeft(y).tickValues(xMinor).tickSize(-3.5).tickFormat("")).call(styleAxis);
  g.append("g").attr("transform", `translate(${right},0)`)
    .call(d3.axisRight(y).tickValues(xTicks).tickSize(-7).tickFormat("")).call(styleAxis);
  g.append("g").attr("transform", `translate(${right},0)`)
    .call(d3.axisRight(y).tickValues(xMinor).tickSize(-3.5).tickFormat("")).call(styleAxis);
  g.selectAll(".tick text").attr("font-size", 17).attr("fill", COL.text)
    .attr("font-family", '"Liberation Sans", Arial, sans-serif');

  // frame
  g.append("rect").attr("x", left).attr("y", y0).attr("width", right - left).attr("height", ph)
    .attr("fill", "none").attr("stroke", COL.frame).attr("stroke-width", 1.7);

  // time window label
  g.append("text").attr("x", timePos[i][0]).attr("y", y0 + timePos[i][1])
    .attr("font-size", 17.5).attr("fill", COL.text).text(timeWindows[i]);

  // counts
  const counts = [upperCounts[i], middleCounts[i], lowerCounts[i]];
  counts.forEach((c, k) => {
    const t = g.append("text").attr("x", countPos[i][k][0]).attr("y", y0 + countPos[i][k][1])
      .attr("font-size", 15).attr("fill", COL.text);
    if (i === 0 && k === 0) {
      t.append("tspan").text("n");
      t.append("tspan").attr("font-size", 9).attr("dy", 4).text("Λ");
      t.append("tspan").attr("dy", -4).text("=" + c);
    } else {
      t.text(c);
    }
  });
});

// reaction legend
const legend = svg.append("g").attr("font-size", 17.5).attr("fill", COL.text);
legend.append("circle").attr("cx", 110).attr("cy", 140).attr("r", 3.6).attr("fill", COL.red);
legend.append("text").attr("x", 115).attr("y", 147).text("π+N=Λ+K");
legend.append("circle").attr("cx", 110).attr("cy", 215).attr("r", 3.2).attr("fill", "none")
  .attr("stroke", COL.ellipse).attr("stroke-width", 1.3);
legend.append("text").attr("x", 116).attr("y", 222).text("N+N=Λ+K+N");
legend.append("circle").attr("cx", 110).attr("cy", 314).attr("r", 3.6).attr("fill", COL.green);
const kbar = legend.append("text").attr("x", 116).attr("y", 321).text("K+N=Λ+π");
const kw = kbar.node().getSubStringLength(0, 1);
legend.append("line").attr("x1", 117).attr("x2", 116 + kw - 0.5).attr("y1", 306).attr("y2", 306)
  .attr("stroke", COL.text).attr("stroke-width", 1.3);
legend.append("circle").attr("cx", 110).attr("cy", 437).attr("r", 3.6).attr("fill", COL.blue);
legend.append("text").attr("x", 116).attr("y", 443).text("Y+N=Λ+N");

// axis titles
svg.append("text").attr("transform", "translate(31,125) rotate(-90)").attr("text-anchor", "middle")
  .attr("font-size", 17.5).attr("fill", COL.text).text("X, fm");
svg.append("text").attr("x", 508).attr("y", 735).attr("text-anchor", "end")
  .attr("font-size", 17).attr("fill", COL.text).text("Z, fm");
</script>
</body>
</html>
